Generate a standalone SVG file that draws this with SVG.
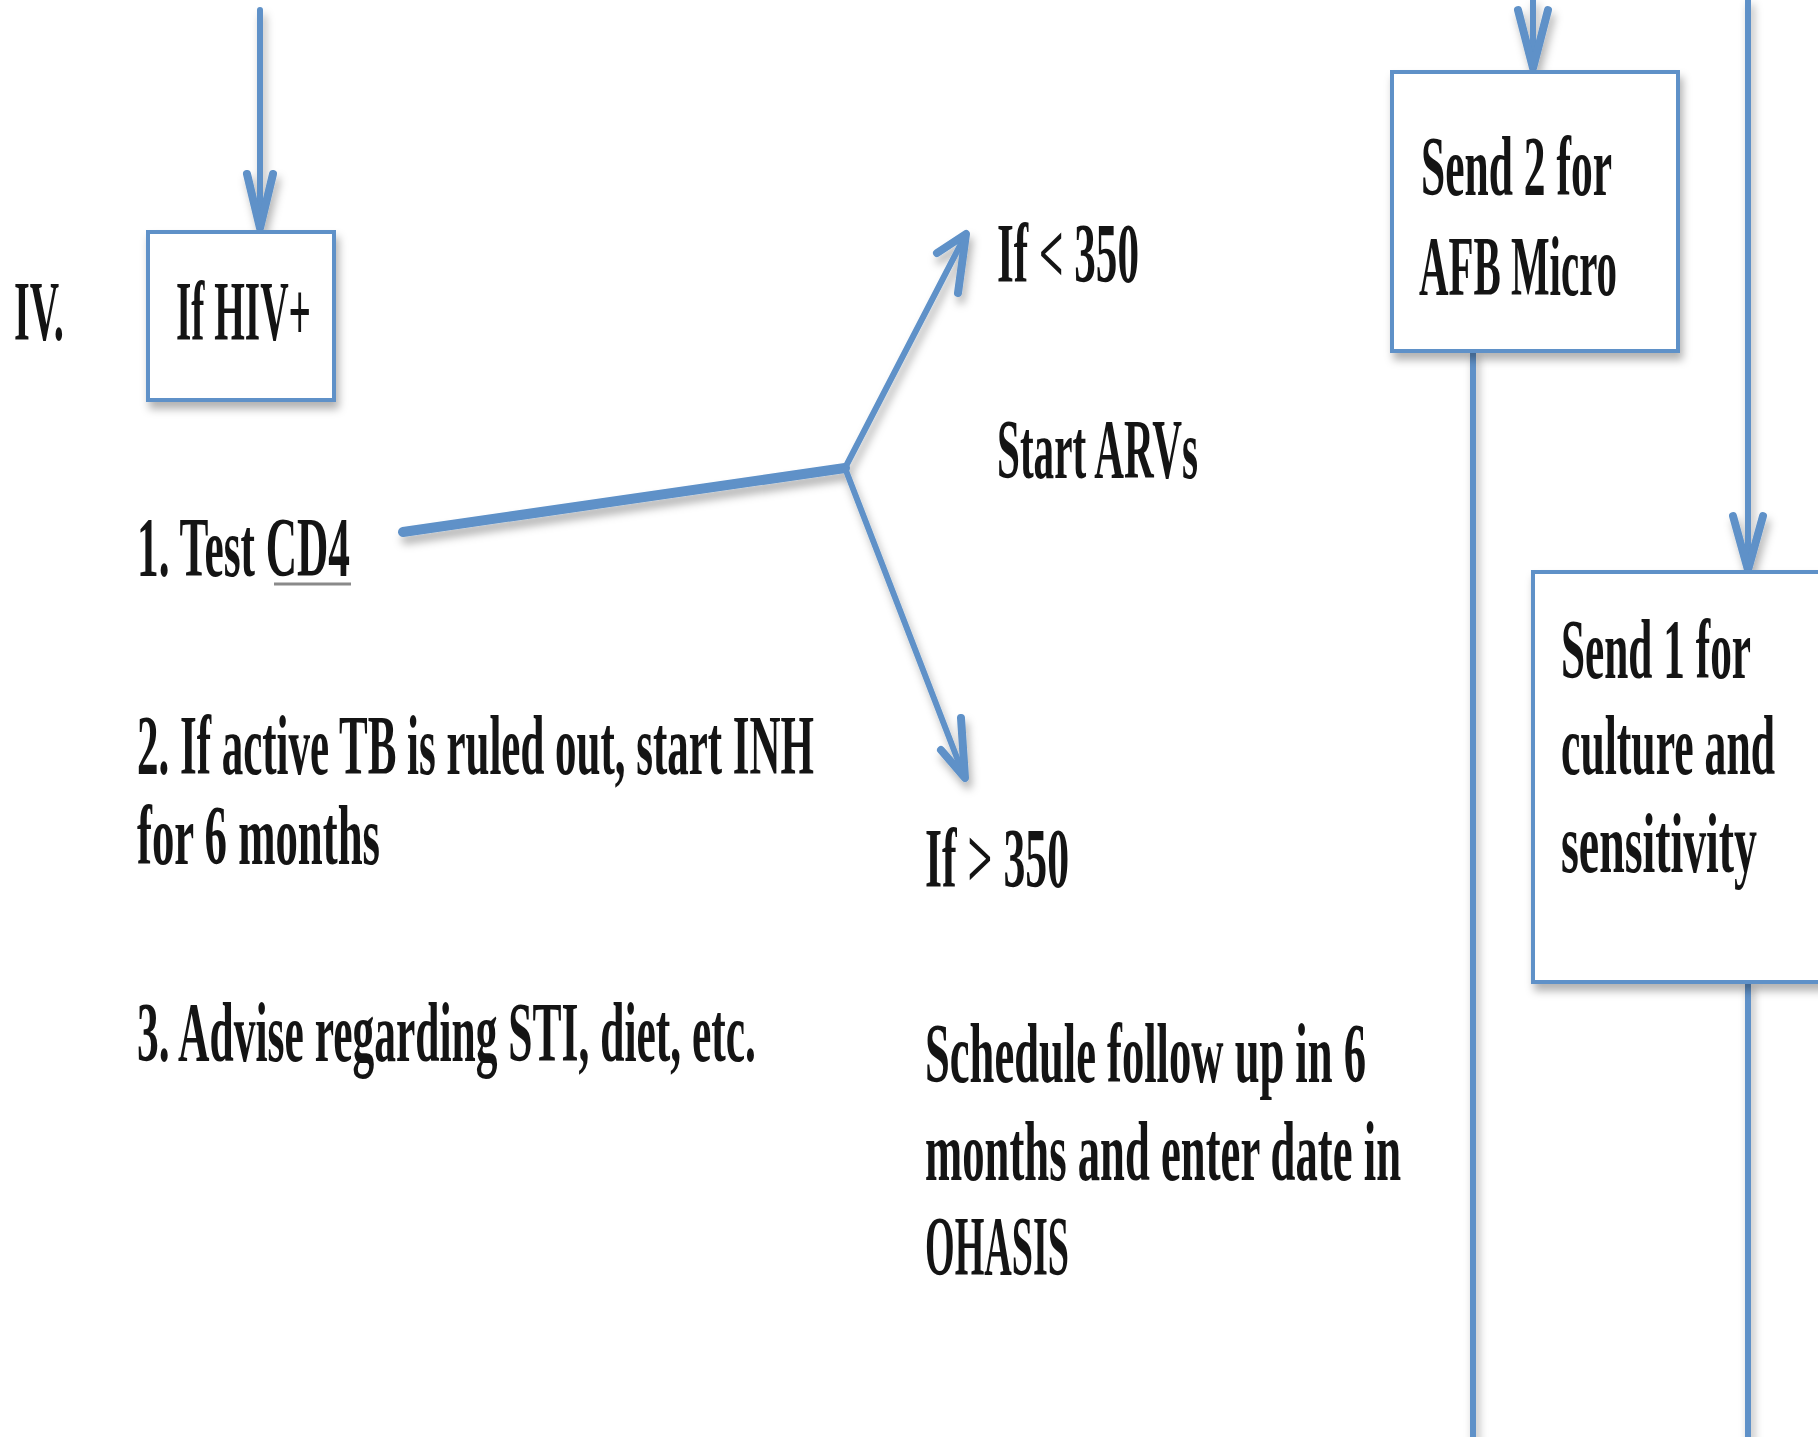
<svg xmlns="http://www.w3.org/2000/svg" width="1818" height="1437" viewBox="0 0 1818 1437">
<defs>
<filter id="sh" x="-20%" y="-20%" width="140%" height="140%">
<feDropShadow dx="3" dy="7" stdDeviation="4" flood-color="#000" flood-opacity="0.3"/>
</filter>
</defs>
<style>
.t{font-family:"Liberation Serif","DejaVu Serif",serif;font-size:84px;font-weight:bold;fill:#141414;}
.box{fill:#fff;stroke:#5e91c8;stroke-width:4;}
.ln{fill:none;stroke:#5e91c8;stroke-width:6;stroke-linecap:round;stroke-linejoin:round;}
.thick{stroke-width:10;}
.thin{stroke-width:6;}
.head{stroke-width:8;}
.ul{stroke:#8a8a8a;stroke-width:3;}
</style>
<rect width="1818" height="1437" fill="#fff"/>

<g id="connectors" filter="url(#sh)">
<path class="ln" d="M260 10 V228"/>
<path class="ln head" d="M247 174 L260 228 L273 174"/>
<path class="ln thick" d="M403 532 L845 468"/>
<path class="ln thin" d="M845 468 L965 236"/>
<path class="ln head" d="M937 253 L966 234 L958 293"/>
<path class="ln thin" d="M845 468 L964 776"/>
<path class="ln head" d="M941 750 L965 778 L961 718"/>
<path class="ln" d="M1533 0 V68"/>
<path class="ln head" d="M1518 10 L1533 68 L1548 10"/>
<path class="ln" d="M1473 352 V1437"/>
<path class="ln" d="M1748 0 V570"/>
<path class="ln head" d="M1733 516 L1748 570 L1763 516"/>
<path class="ln" d="M1748 983 V1437"/>
</g>

<g id="label-iv">
<text class="t" transform="translate(14 340) scale(0.5 1)" textLength="100" lengthAdjust="spacingAndGlyphs">IV.</text>
</g>

<g id="node-hiv">
<rect class="box" x="148" y="232" width="186" height="168" filter="url(#sh)"/>
<text class="t" transform="translate(176 340) scale(0.5 1)" textLength="270" lengthAdjust="spacingAndGlyphs">If HIV+</text>
</g>

<g id="node-steps">
<text class="t" transform="translate(137 576) scale(0.5 1)" textLength="426" lengthAdjust="spacingAndGlyphs">1. Test CD4</text>
<line class="ul" x1="274" y1="584" x2="351" y2="584"/>
<text class="t" transform="translate(137 774) scale(0.5 1)" textLength="1354" lengthAdjust="spacingAndGlyphs">2. If active TB is ruled out, start INH</text>
<text class="t" transform="translate(137 864) scale(0.5 1)" textLength="486" lengthAdjust="spacingAndGlyphs">for 6 months</text>
<text class="t" transform="translate(137 1061) scale(0.5 1)" textLength="1238" lengthAdjust="spacingAndGlyphs">3. Advise regarding STI, diet, etc.</text>
</g>

<g id="node-lt350">
<text class="t" transform="translate(997 282) scale(0.5 1)" textLength="284" lengthAdjust="spacingAndGlyphs">If &lt; 350</text>
<text class="t" transform="translate(997 478) scale(0.5 1)" textLength="402" lengthAdjust="spacingAndGlyphs">Start ARVs</text>
</g>

<g id="node-gt350">
<text class="t" transform="translate(925 887) scale(0.5 1)" textLength="288" lengthAdjust="spacingAndGlyphs">If &gt; 350</text>
<text class="t" transform="translate(925 1082) scale(0.5 1)" textLength="882" lengthAdjust="spacingAndGlyphs">Schedule follow up in 6</text>
<text class="t" transform="translate(925 1180) scale(0.5 1)" textLength="952" lengthAdjust="spacingAndGlyphs">months and enter date in</text>
<text class="t" transform="translate(925 1275) scale(0.5 1)" textLength="288" lengthAdjust="spacingAndGlyphs">OHASIS</text>
</g>

<g id="node-afb">
<rect class="box" x="1392" y="72" width="286" height="279" filter="url(#sh)"/>
<text class="t" transform="translate(1421 195) scale(0.5 1)" textLength="382" lengthAdjust="spacingAndGlyphs">Send 2 for</text>
<text class="t" transform="translate(1419 295) scale(0.5 1)" textLength="396" lengthAdjust="spacingAndGlyphs">AFB Micro</text>
</g>

<g id="node-culture">
<rect class="box" x="1533" y="572" width="300" height="410" filter="url(#sh)"/>
<text class="t" transform="translate(1561 678) scale(0.5 1)" textLength="380" lengthAdjust="spacingAndGlyphs">Send 1 for</text>
<text class="t" transform="translate(1561 774) scale(0.5 1)" textLength="428" lengthAdjust="spacingAndGlyphs">culture and</text>
<text class="t" transform="translate(1561 872) scale(0.5 1)" textLength="392" lengthAdjust="spacingAndGlyphs">sensitivity</text>
</g>
</svg>
